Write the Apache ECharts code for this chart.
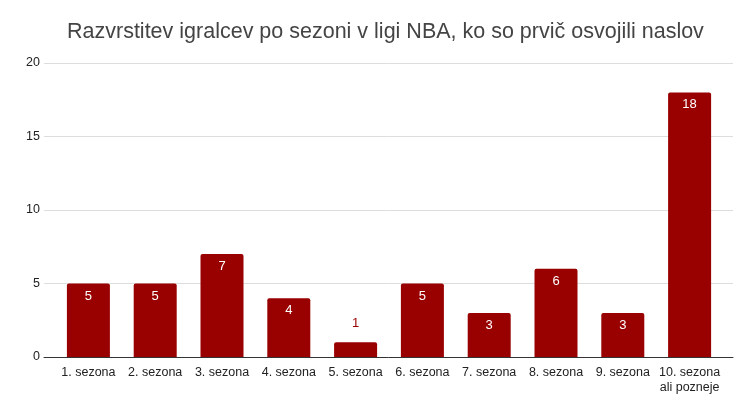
<!DOCTYPE html>
<html>
<head>
<meta charset="utf-8">
<script src="https://cdn.jsdelivr.net/npm/echarts@6/dist/echarts.min.js"></script>
<style>
  html, body { margin: 0; padding: 0; background: #fff; }
  #ech { width: 750px; height: 405px; }
</style>
</head>
<body>
<div id="ech"></div>
<script>
var titleText = 'Razvrstitev igralcev po sezoni v ligi NBA, ko so prvič osvojili naslov';
var categories = ['1. sezona', '2. sezona', '3. sezona', '4. sezona', '5. sezona',
	'6. sezona', '7. sezona', '8. sezona', '9. sezona', '10. sezona\nali pozneje'];
var values = [5, 5, 7, 4, 1, 5, 3, 6, 3, 18];
var yTicks = [0, 5, 10, 15, 20];

function showEchart(cats, vals) {
	var myChart = echarts.init(document.getElementById('ech'));
	var fontFam = '"Liberation Sans", Arial, sans-serif';
	// small bars get their label above the bar
	var barData = vals.map(function(v) {
		if (v < 2) {
			return {
				value: v,
				label: { position: 'top', color: '#990000', distance: 12 }
			};
		}
		return v;
	});
	var option = {
		title : {
			text : titleText,
			left : 62,
			top : 16,
			textStyle : { fontFamily: fontFam, fontSize: 21.5, fontWeight: 'normal', color: '#444' }
		},
		// grid 0 holds the bars, grid 1 only draws the wider gridlines and baseline
		grid : [
			{ left: 55, right: 27, top: 63, bottom: 48 },
			{ left: 44, right: 17, top: 63, bottom: 48 }
		],
		xAxis : [{
			type : 'category',
			gridIndex : 0,
			data : cats,
			axisTick : { show: false },
			axisLine : { show: false },
			axisLabel : { interval: 0, fontFamily: fontFam, fontSize: 12.5, color: '#222', margin: 8, lineHeight: 15 }
		}, {
			type : 'value',
			gridIndex : 1,
			axisLabel : { show: false },
			axisTick : { show: false },
			splitLine : { show: false },
			axisLine : { show: true, lineStyle: { color: '#333', width: 1 } }
		}],
		yAxis : [{
			type : 'value',
			gridIndex : 0,
			min : yTicks[0],
			max : yTicks[yTicks.length - 1],
			interval : 5,
			axisLine : { show: false },
			axisTick : { show: false },
			axisLabel : { fontFamily: fontFam, fontSize: 12.5, color: '#222', margin: 15 },
			splitLine : { show: false }
		}, {
			type : 'value',
			gridIndex : 1,
			min : yTicks[0],
			max : yTicks[yTicks.length - 1],
			interval : 5,
			axisLine : { show: false },
			axisTick : { show: false },
			axisLabel : { show: false },
			splitLine : { lineStyle: { color: '#dddddd' } }
		}],
		series : [{
			type : 'bar',
			xAxisIndex : 0,
			yAxisIndex : 0,
			z : 3,
			data : barData,
			barWidth : 43,
			itemStyle : { color: '#990000', borderRadius: [2, 2, 0, 0] },
			label : {
				show : true,
				position : 'insideTop',
				distance : 6,
				color : '#fff',
				fontFamily : fontFam,
				fontSize : 13
			}
		}]
	};
	myChart.setOption(option);
}

showEchart(categories, values);
</script>
</body>
</html>
